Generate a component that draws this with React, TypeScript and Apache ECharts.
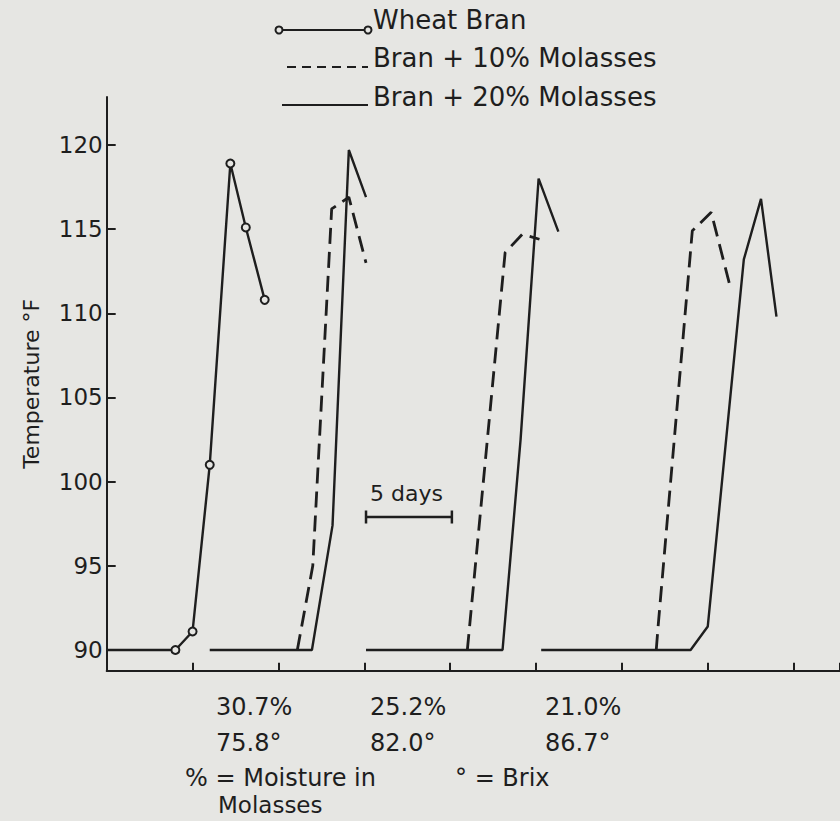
import React, { useEffect, useRef } from "react";
import * as echarts from "echarts";

const FONT = '"DejaVu Sans", sans-serif';
const INK = "#1e1e1e";
const PAPER = "#e6e6e3";

// Y axis tick values (°F)
const yTicks = [90, 95, 100, 105, 110, 115, 120];

// [day, temperature °F]
const wheatBran = [[0, 90], [4.0, 90], [5.0, 91.1], [6.0, 101.0], [7.2, 118.9], [8.1, 115.1], [9.2, 110.8]];
const bran10Group1 = [[11.1, 90], [12.0, 95.0], [13.1, 116.2], [14.1, 116.9], [15.1, 113.0]];
const bran10Group2 = [[21.0, 90], [23.2, 113.6], [24.2, 114.7], [25.2, 114.4]];
const bran10Group3 = [[32.0, 90], [32.1, 91.3], [34.1, 114.9], [35.2, 116.0], [36.3, 111.6]];
const bran20Group1 = [[6.0, 90], [11.95, 90], [13.15, 97.4], [14.1, 119.7], [15.1, 116.9]];
const bran20Group2 = [[15.1, 90], [23.05, 90], [24.1, 102.5], [25.15, 118.0], [26.3, 114.85]];
const bran20Group3 = [[25.3, 90], [34.0, 90], [35.0, 91.4], [37.1, 113.2], [38.1, 116.8], [39.0, 109.8]];

// 5-day scale bar
const scaleBar = [[15.1, 97.9], [20.1, 97.9]];
const scaleBarLabel = "5 days";

const moistureLabels = ["30.7%", "25.2%", "21.0%"];
const brixLabels = ["75.8°", "82.0°", "86.7°"];
const labelLefts = [216, 370, 545];

export default function App() {
  const ref = useRef<HTMLDivElement>(null);
  useEffect(() => {
    document.body.style.margin = "0";
    const chart = echarts.init(ref.current!, null, { renderer: "svg" });

    const solid = { color: INK, width: 2.4, type: "solid" as const };
    const dashed = { color: INK, width: 2.8, type: [16, 8] as any };

    const lineSeries = (name: string, data: number[][], ls: any) => ({
      type: "line",
      name,
      data,
      showSymbol: false,
      symbol: "none",
      lineStyle: ls,
      z: 3,
    });

    const txt = (text: string, x: number, y: number, size = 24, extra: any = {}) => ({
      type: "text",
      x,
      y,
      style: {
        text,
        fill: INK,
        fontSize: size,
        fontFamily: FONT,
        align: "left",
        verticalAlign: "middle",
        ...extra,
      },
    });

    const graphic: any[] = [
      // legend
      { type: "line", shape: { x1: 279, y1: 30, x2: 368, y2: 30 }, style: { stroke: INK, lineWidth: 2 } },
      { type: "circle", shape: { cx: 279, cy: 30, r: 3.5 }, style: { fill: PAPER, stroke: INK, lineWidth: 2 } },
      { type: "circle", shape: { cx: 368, cy: 30, r: 3.5 }, style: { fill: PAPER, stroke: INK, lineWidth: 2 } },
      txt("Wheat Bran", 373, 20, 26),
      { type: "line", shape: { x1: 287, y1: 67, x2: 368, y2: 67 }, style: { stroke: INK, lineWidth: 2, lineDash: [9, 6] } },
      txt("Bran + 10% Molasses", 373, 58, 26),
      { type: "line", shape: { x1: 282, y1: 105, x2: 368, y2: 105 }, style: { stroke: INK, lineWidth: 2 } },
      txt("Bran + 20% Molasses", 373, 97, 26),
      // scale bar caption
      txt(scaleBarLabel, 370, 493, 22),
      // bottom notes
      ...moistureLabels.map((t, i) => txt(t, labelLefts[i], 707)),
      ...brixLabels.map((t, i) => txt(t, labelLefts[i], 743)),
      txt("% = Moisture in", 185, 778),
      txt("Molasses", 218, 805, 23),
      txt("° = Brix", 455, 778),
    ];

    chart.setOption({
      animation: false,
      backgroundColor: PAPER,
      grid: { left: 106.7, right: 0, top: 97, bottom: 150.3, containLabel: false },
      xAxis: {
        type: "value",
        min: 0,
        max: 42.7,
        interval: 5,
        axisLine: { lineStyle: { color: INK, width: 2 } },
        axisTick: { inside: true, length: 8, lineStyle: { color: INK, width: 2 } },
        axisLabel: { show: false },
        splitLine: { show: false },
      },
      yAxis: {
        type: "value",
        min: 88.77,
        max: 122.85,
        name: "Temperature °F",
        nameLocation: "middle",
        nameGap: 64,
        nameRotate: 90,
        nameTextStyle: { color: INK, fontSize: 22, fontFamily: FONT },
        axisLine: { show: true, lineStyle: { color: INK, width: 2 } },
        axisTick: { show: true, inside: true, length: 9, customValues: yTicks, lineStyle: { color: INK, width: 2 } },
        axisLabel: { customValues: yTicks, color: INK, fontSize: 23, fontFamily: FONT, margin: 4 },
        splitLine: { show: false },
      },
      graphic,
      series: [
        {
          type: "line",
          name: "Wheat Bran",
          data: wheatBran.map((p, i) => (i === 0 ? { value: p, symbol: "none" } : { value: p })),
          symbol: "circle",
          symbolSize: 8,
          showSymbol: true,
          itemStyle: { color: PAPER, borderColor: INK, borderWidth: 2 },
          lineStyle: solid,
          z: 4,
        },
        lineSeries("Bran + 10% Molasses", bran10Group1, dashed),
        lineSeries("Bran + 10% Molasses", bran10Group2, dashed),
        lineSeries("Bran + 10% Molasses", bran10Group3, dashed),
        lineSeries("Bran + 20% Molasses", bran20Group1, solid),
        lineSeries("Bran + 20% Molasses", bran20Group2, solid),
        lineSeries("Bran + 20% Molasses", bran20Group3, solid),
        {
          type: "line",
          name: "5 days",
          data: scaleBar,
          symbol: "rect",
          symbolSize: [2.5, 13],
          showSymbol: true,
          itemStyle: { color: INK },
          lineStyle: { color: INK, width: 2.4 },
          z: 3,
        },
      ],
    });
    return () => chart.dispose();
  }, []);
  return <div ref={ref} style={{ width: 840, height: 821 }} />;
}
